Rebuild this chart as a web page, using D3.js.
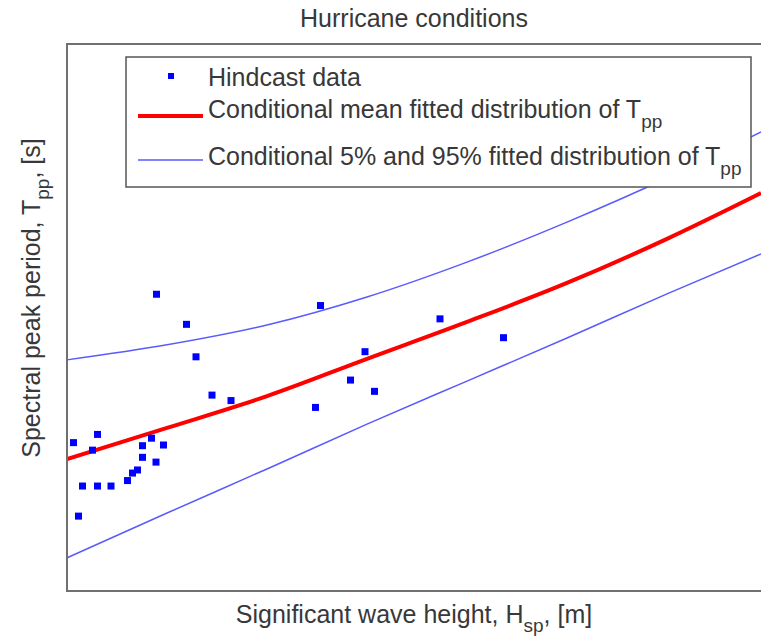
<!DOCTYPE html>
<html lang="en">
<head>
    <meta charset="UTF-8">
    <title>Hurricane conditions</title>
    <style>
        body{
            margin: 0;
            background-color: #fff;
        }
        svg{
            display: block;
            font-family: "Liberation Sans", Arial, sans-serif;
        }
        .label{
            fill: #383838;
            font-size: 25px;
        }
        .frame{
            fill: none;
            stroke: #707070;
            stroke-width: 2px;
        }
        .mean{
            fill: none;
            stroke: #ff0000;
            stroke-width: 4px;
        }
        .bound{
            fill: none;
            stroke: #5a5aff;
            stroke-width: 1.5px;
        }
        .hindcast{
            fill: #0000ff;
        }
    </style>
    <script src="https://cdn.jsdelivr.net/npm/d3@7"></script>
</head>
<body>
    <svg id="main" width="761" height="638" viewBox="0 0 761 638"></svg>
<script>
    // hindcast points: Hs [m], Tpp [s]
    const hindcastHs  = [0.13, 0.23, 0.31, 0.51, 0.61, 0.61, 0.88, 1.21, 1.31, 1.41, 1.51, 1.51, 1.69, 1.78,
                         1.93, 1.79, 2.39, 2.58, 2.90, 3.28, 4.97, 5.07, 5.67, 5.96, 6.15, 7.46, 8.73]
    const hindcastTpp = [8.34, 6.19, 7.07, 8.12, 8.58, 7.07, 7.07, 7.23, 7.45, 7.54, 8.25, 7.91, 8.47, 7.77,
                         8.27, 12.68, 11.80, 10.85, 9.73, 9.57, 9.37, 12.35, 10.17, 11.00, 9.84, 11.96, 11.41]

    // fitted conditional distribution of Tpp, read at these Hs values
    const curveHs  = [0, 2, 4, 6, 8, 10, 12, 13.88]
    const meanTpp  = [7.86, 8.77, 9.70, 10.79, 11.87, 13.01, 14.30, 15.64]
    const upperTpp = [10.76, 11.20, 11.78, 12.60, 13.62, 14.79, 16.08, 17.43]
    const lowerTpp = [4.97, 6.28, 7.57, 8.88, 10.14, 11.40, 12.69, 13.86]

    const legendLabels = ["Hindcast data",
                          "Conditional mean fitted distribution of T",
                          "Conditional 5% and 95% fitted distribution of T"]

    const margins = {top: 44, bottom: 47, left: 67, right: -6}
    const W = 761, H = 638
    const svg = d3.select("#main")

    const xScale = d3.scaleLinear()
        .domain([0, 14])
        .range([margins.left, W - margins.right])
    const yScale = d3.scaleLinear()
        .domain([4, 20])
        .range([H - margins.bottom, margins.top])

    const zip = (xs, ys) => xs.map((x, i) => ({hs: x, tpp: ys[i]}))

    svg.append("clipPath").attr("id", "plotclip")
        .append("rect")
        .attr("x", xScale(0)).attr("y", yScale(20))
        .attr("width", xScale(14) - xScale(0))
        .attr("height", yScale(4) - yScale(20))

    const line = d3.line()
        .x(d => xScale(d.hs))
        .y(d => yScale(d.tpp))
        .curve(d3.curveMonotoneX)

    const plot = svg.append("g").attr("clip-path", "url(#plotclip)")

    plot.selectAll(".bound")
        .data([zip(curveHs, upperTpp), zip(curveHs, lowerTpp)])
        .enter()
        .append("path")
        .attr("class", "bound")
        .attr("d", line)

    plot.append("path")
        .datum(zip(curveHs, meanTpp))
        .attr("class", "mean")
        .attr("d", line)

    const ms = 7
    plot.selectAll(".hindcast")
        .data(zip(hindcastHs, hindcastTpp))
        .enter()
        .append("rect")
        .attr("class", "hindcast")
        .attr("x", d => xScale(d.hs) - ms / 2)
        .attr("y", d => yScale(d.tpp) - ms / 2)
        .attr("width", ms)
        .attr("height", ms)

    // axes box, no ticks
    svg.append("rect")
        .attr("class", "frame")
        .attr("x", xScale(0)).attr("y", yScale(20))
        .attr("width", xScale(14) - xScale(0))
        .attr("height", yScale(4) - yScale(20))

    // title and axis labels
    svg.append("text")
        .attr("class", "label")
        .attr("x", 414).attr("y", 27)
        .attr("text-anchor", "middle")
        .text("Hurricane conditions")

    const xl = svg.append("text")
        .attr("class", "label")
        .attr("x", 414).attr("y", 623)
        .attr("text-anchor", "middle")
    xl.append("tspan").text("Significant wave height, H")
    xl.append("tspan").attr("dy", 9).attr("font-size", "19px").text("sp")
    xl.append("tspan").attr("dy", -9).text(", [m]")

    const yl = svg.append("text")
        .attr("class", "label")
        .attr("transform", "translate(40,298) rotate(-90)")
        .attr("text-anchor", "middle")
    yl.append("tspan").text("Spectral peak period, T")
    yl.append("tspan").attr("dy", 9).attr("font-size", "19px").text("pp")
    yl.append("tspan").attr("dy", -9).text(", [s]")

    // legend
    const legend = svg.append("g")
    legend.append("rect")
        .attr("x", 126).attr("y", 57)
        .attr("width", 625).attr("height", 130)
        .attr("fill", "#fff")
        .attr("stroke", "#555")
        .attr("stroke-width", 1.5)

    legend.append("rect")
        .attr("class", "hindcast")
        .attr("x", 171 - 3).attr("y", 76 - 3)
        .attr("width", 6).attr("height", 6)
    legend.append("line")
        .attr("class", "mean")
        .attr("x1", 138).attr("x2", 203)
        .attr("y1", 116).attr("y2", 116)
    legend.append("line")
        .attr("class", "bound")
        .attr("x1", 138).attr("x2", 203)
        .attr("y1", 160).attr("y2", 160)

    const rowY = [86, 118, 165]
    legendLabels.forEach((t, i) => {
        const tx = legend.append("text")
            .attr("class", "label")
            .attr("x", 208).attr("y", rowY[i])
        tx.append("tspan").text(t)
        if (i > 0) {
            tx.append("tspan").attr("dy", 10).attr("font-size", "19px").text("pp")
        }
    })
</script>
</body>
</html>
